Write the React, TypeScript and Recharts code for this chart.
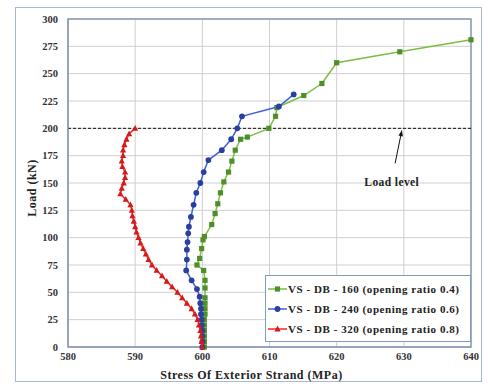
import { ScatterChart, Scatter, XAxis, YAxis, CartesianGrid, ReferenceLine, ReferenceArea, ReferenceDot } from 'recharts';

// stress of exterior strand (MPa) vs load (kN)
const db160Load = [0,5,10,15,20,25,30,35,40,45,54,61,70,75,81,90,98,101,112,122,131,141,151,160,170,180,190,192,200,211,219,230,241,260,270,281];
const db160Stress = [600.3,600.3,600.3,600.3,600.3,600.3,600.4,600.4,600.4,600.4,600.4,600.4,600.2,599.2,599.6,599.9,600.1,600.3,601.4,601.9,602.3,602.7,603.2,603.9,604.4,604.9,605.7,606.7,609.9,610.9,611.1,615.1,617.8,620.0,629.4,640.0];

const db240Load = [0,5,10,15,20,25,30,35,40,46,53,61,70,80,89,96,104,110,119,130,141,150,160,171,180,190,200,211,220,231];
const db240Stress = [600,600,600,600,599.9,599.9,599.8,599.8,599.7,599.6,599.2,598.4,597.6,597.7,597.7,597.8,597.9,598.0,598.3,598.7,599.1,599.7,600.2,600.9,602.9,604.3,605.2,605.9,611.4,613.6];

const db320Load = [0,5,10,15,20,25,30,35,40,45,50,55,60,65,70,75,80,85,90,95,100,105,110,115,120,125,130,135,140,145,150,155,160,165,170,175,180,185,190,195,200];
const db320Stress = [600,599.9,599.8,599.7,599.5,599.3,598.9,598.4,597.7,597.0,596.3,595.5,594.7,594.0,593.2,592.5,592.0,591.6,591.2,590.8,590.5,590.2,590.0,589.8,589.6,589.5,589.3,588.6,587.8,588.0,588.3,588.5,588.5,588.1,588.0,588.2,588.2,588.4,588.7,589.1,590.0];

const xTicks = [580,590,600,610,620,630,640];
const yTicks = [0,25,50,75,100,125,150,175,200,225,250,275,300];
const loadLevel = 200;

const toPts = (load:number[], stress:number[]) => load.map((l,i)=>({stress:stress[i], load:l}));

const FONT = '"Liberation Serif", "Times New Roman", serif';

const square = (c:string) => (p:any) => <rect x={p.cx-2.6} y={p.cy-2.6} width={5.2} height={5.2} fill={c} />;
const dot = (c:string) => (p:any) => <circle cx={p.cx} cy={p.cy} r={2.9} fill={c} />;
const tri = (c:string) => (p:any) => <polygon points={`${p.cx},${p.cy-3.4} ${p.cx+3.1},${p.cy+2.4} ${p.cx-3.1},${p.cy+2.4}`} fill={c} />;

const series = [
  {name:'VS - DB - 160 (opening ratio 0.4)', data:toPts(db160Load, db160Stress), line:'#7cbd45', mark:'#4f8f2a', shape:square},
  {name:'VS - DB - 240 (opening ratio 0.6)', data:toPts(db240Load, db240Stress), line:'#3d62d6', mark:'#2a3f9e', shape:dot},
  {name:'VS - DB - 320 (opening ratio 0.8)', data:toPts(db320Load, db320Stress), line:'#ff2424', mark:'#d41a1a', shape:tri},
];

const Arrow = (p:any) => {
  const {x1,y1,x2,y2} = p;
  const a = Math.atan2(y2-y1, x2-x1);
  const s = 6;
  const l = `${x2},${y2} ${x2-s*Math.cos(a-0.4)},${y2-s*Math.sin(a-0.4)} ${x2-s*Math.cos(a+0.4)},${y2-s*Math.sin(a+0.4)}`;
  return <g><line x1={x1} y1={y1} x2={x2} y2={y2} stroke="#111" strokeWidth={1}/><polygon points={l} fill="#111"/></g>;
};

const LegendBox = () => (
  <div style={{position:'absolute', left:265, top:275, border:'1px solid #7f9cc0', background:'#fff', width:206, height:67, boxSizing:'border-box', padding:'3px 0 0 1px', fontFamily:FONT, fontWeight:'bold', fontSize:11, letterSpacing:0.55, color:'#222', whiteSpace:'nowrap'}}>
    {series.map(s=>(
      <div key={s.name} style={{display:'flex', alignItems:'center', height:20}}>
        <svg width={21} height={10} style={{marginRight:0}}>
          <line x1={1} y1={5} x2={20} y2={5} stroke={s.line} strokeWidth={1.5}/>
          {s.shape(s.mark)({cx:10.5, cy:5})}
        </svg>
        <span>{s.name}</span>
      </div>
    ))}
  </div>
);

const tickStyle = {fontFamily:FONT, fontWeight:'bold', fontSize:10.5, fill:'#333'};

export default function App(){
  return (
    <div style={{position:'absolute', left:0, top:0, width:488, height:387, background:'#fff'}}>
      <div style={{position:'absolute', left:15, top:7, width:467, height:375, border:'1px solid #a9bad0', boxSizing:'border-box'}}/>
      <ScatterChart width={488} height={387} margin={{top:19, right:17, bottom:0, left:0}} style={{position:'absolute', left:0, top:0}}>
        <CartesianGrid stroke="#cfcfcf" />
        <XAxis type="number" dataKey="stress" domain={[580,640]} ticks={xTicks} height={40} tickSize={0} tickMargin={6}
          axisLine={{stroke:'#8a9bb5'}} tick={tickStyle}
          label={{value:'Stress Of Exterior Strand (MPa)', position:'center', dx:-18, dy:8, fontFamily:FONT, fontWeight:'bold', fontSize:12, letterSpacing:0.5, fill:'#222'}} />
        <YAxis type="number" dataKey="load" domain={[0,300]} ticks={yTicks} width={68} tickSize={0} tickMargin={10}
          axisLine={{stroke:'#8a9bb5'}} tick={tickStyle}
          label={{value:'Load (kN)', angle:-90, position:'center', dx:-2, dy:5, fontFamily:FONT, fontWeight:'bold', fontSize:12, letterSpacing:0.5, fill:'#222'}} />
        <ReferenceArea x1={580} x2={640} y1={0} y2={300} fill="none" stroke="#8a9bb5" strokeWidth={1.5} ifOverflow="visible" />
        <ReferenceLine y={loadLevel} stroke="#111" strokeDasharray="3 2" strokeWidth={1} />
        <ReferenceLine segment={[{x:628.7, y:168}, {x:629.7, y:198}]} shape={Arrow} />
        <ReferenceDot x={628.2} y={151} r={0} stroke="none" fill="none"
          label={{value:'Load level', position:'center', fontFamily:FONT, fontWeight:'bold', fontSize:11.5, letterSpacing:0.4, fill:'#222'}} />
        {series.map(s=>(
          <Scatter key={s.name} name={s.name} data={s.data} line={{stroke:s.line, strokeWidth:1.5}} lineJointType="linear"
            shape={s.shape(s.mark)} isAnimationActive={false} />
        ))}
      </ScatterChart>
      <LegendBox />
    </div>
  );
}
